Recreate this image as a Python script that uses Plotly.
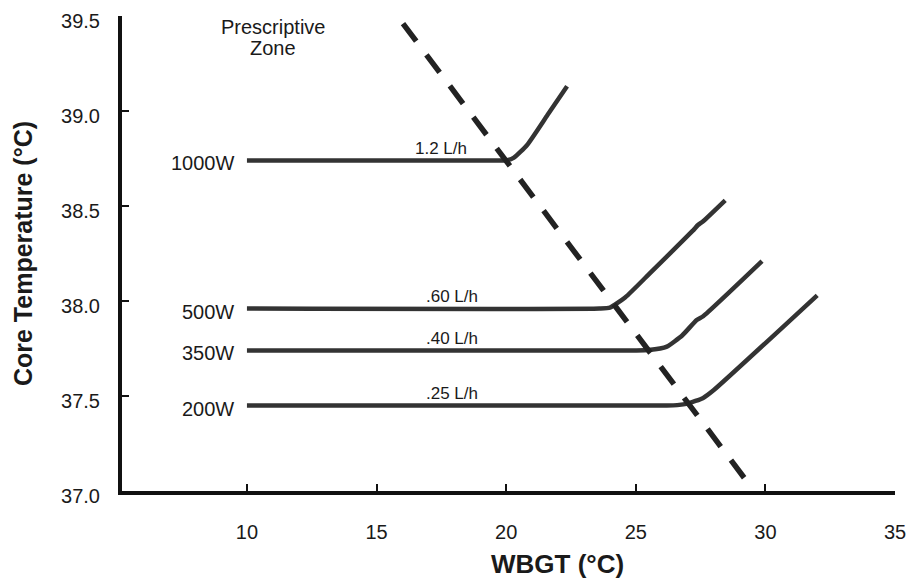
import plotly.graph_objects as go

# ---- data ----
power_labels = ["1000W", "500W", "350W", "200W"]
rate_labels = ["1.2 L/h", ".60 L/h", ".40 L/h", ".25 L/h"]

wbgt_1000 = [10, 19.6, 20.0, 20.3, 20.8, 21.6, 22.35]
core_1000 = [38.74, 38.74, 38.74, 38.755, 38.82, 38.98, 39.13]

wbgt_500 = [10, 23.6, 24.0, 24.6, 25.5, 27.2, 27.4, 27.6, 28.45]
core_500 = [37.96, 37.96, 37.965, 38.02, 38.14, 38.37, 38.40, 38.42, 38.53]

wbgt_350 = [10, 25.0, 25.5, 26.2, 26.8, 27.35, 27.6, 29.87]
core_350 = [37.74, 37.74, 37.742, 37.76, 37.82, 37.90, 37.92, 38.21]

wbgt_200 = [10, 26.2, 26.6, 27.0, 27.6, 28.0, 32.0]
core_200 = [37.45, 37.45, 37.452, 37.46, 37.49, 37.53, 38.03]

zone_wbgt = [16.02, 29.4]
zone_core = [39.46, 37.03]

rate_label_x = [17.5, 17.9, 17.9, 17.9]

x_ticks = [10, 15, 20, 25, 30, 35]
y_ticks = [37.0, 37.5, 38.0, 38.5, 39.0, 39.5]

series_x = [wbgt_1000, wbgt_500, wbgt_350, wbgt_200]
series_y = [core_1000, core_500, core_350, core_200]

FONT = "Arial, 'Liberation Sans', sans-serif"
LINE_COLOR = "#333333"
TEXT_COLOR = "#1a1a1a"

W, H = 907, 579
L, T = 122, 16
R = W - 895
B = H - 491
pw, ph = W - L - R, H - T - B

fig = go.Figure()

for name, xs, ys in zip(power_labels, series_x, series_y):
    fig.add_trace(go.Scatter(
        x=xs, y=ys, mode="lines", name=name,
        line=dict(color=LINE_COLOR, width=4.5, shape="spline", smoothing=0.5),
        showlegend=False, hoverinfo="x+y+name",
    ))

fig.add_trace(go.Scatter(
    x=zone_wbgt, y=zone_core, mode="lines", name="Prescriptive Zone limit",
    line=dict(color="#222222", width=5.5, dash="22px,17px"),
    showlegend=False,
))

annotations = []
for name, xs, ys in zip(power_labels, series_x, series_y):
    annotations.append(dict(
        x=xs[0], y=ys[0], xref="x", yref="y", text=name, showarrow=False,
        xanchor="right", yanchor="middle", xshift=-11, yshift=-3,
        font=dict(family=FONT, size=20, color=TEXT_COLOR),
    ))
for lab, lx, ys in zip(rate_labels, rate_label_x, series_y):
    annotations.append(dict(
        x=lx, y=ys[0], xref="x", yref="y", text=lab, showarrow=False,
        xanchor="center", yanchor="middle", yshift=12,
        font=dict(family=FONT, size=17, color=TEXT_COLOR),
    ))
annotations.append(dict(
    x=11.0, y=39.44, xref="x", yref="y", text="Prescriptive", showarrow=False,
    xanchor="center", yanchor="middle",
    font=dict(family=FONT, size=20, color=TEXT_COLOR),
))
annotations.append(dict(
    x=11.0, y=39.33, xref="x", yref="y", text="Zone", showarrow=False,
    xanchor="center", yanchor="middle",
    font=dict(family=FONT, size=20, color=TEXT_COLOR),
))
# x-axis title placed like the reference (slightly right of centre)
annotations.append(dict(
    x=(557 - L) / pw, y=(H - 564 - B) / ph,
    xref="paper", yref="paper", text="<b>WBGT (°C)</b>",
    showarrow=False, xanchor="center", yanchor="middle",
    font=dict(family=FONT, size=26, color=TEXT_COLOR),
))

fig.update_layout(
    width=W, height=H,
    margin=dict(l=L, r=R, t=T, b=B, autoexpand=False),
    paper_bgcolor="white", plot_bgcolor="white",
    font=dict(family=FONT, color=TEXT_COLOR),
    annotations=annotations,
    xaxis=dict(
        range=[5.18, 35], tickvals=x_ticks, ticktext=[str(v) for v in x_ticks],
        showgrid=False, zeroline=False, showline=True, linecolor="#111111", linewidth=4,
        ticks="inside", ticklen=7, tickwidth=2, tickcolor="#111111",
        tickfont=dict(family=FONT, size=20, color=TEXT_COLOR),
        ticklabelstandoff=20, ticklabeloverflow="allow",
    ),
    yaxis=dict(
        range=[37.0, 39.5], tickvals=y_ticks, ticktext=[f"{v:.1f}" for v in y_ticks],
        showgrid=False, zeroline=False, showline=True, linecolor="#111111", linewidth=4,
        ticks="inside", ticklen=7, tickwidth=2, tickcolor="#111111",
        tickfont=dict(family=FONT, size=20, color=TEXT_COLOR),
        ticklabelstandoff=14, ticklabeloverflow="allow", ticklabelshift=5,
        title=dict(text="<b>Core Temperature (°C)</b>", standoff=22,
                   font=dict(family=FONT, size=25, color=TEXT_COLOR)),
    ),
)

fig.write_html(
    "out.html",
    config={"displayModeBar": False},
    post_script="document.body.style.margin='0';",
)
